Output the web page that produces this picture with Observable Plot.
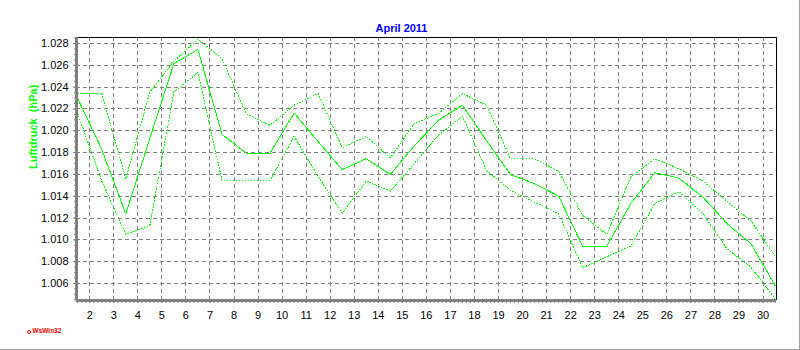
<!DOCTYPE html>
<html>
<head>
<meta charset="utf-8">
<script src="https://cdn.jsdelivr.net/npm/d3@7"></script>
<script src="https://cdn.jsdelivr.net/npm/@observablehq/plot@0.6"></script>
<style>
  html, body { margin: 0; padding: 0; background: #fff; }
  #wrap { position: relative; width: 800px; height: 350px; overflow: hidden; font-family: "Liberation Sans", Arial, sans-serif; }
  #edge { position: absolute; left: 0; top: 0; width: 800px; height: 350px; box-sizing: border-box; border-right: 1px solid #a0a0a0; border-bottom: 1px solid #a0a0a0; pointer-events: none; }
  #wm { position: absolute; left: 27px; top: 327px; font-size: 6.5px; font-weight: bold; color: #ff0000; line-height: 8px; white-space: nowrap; }
  #wm .ring { display: inline-block; width: 2px; height: 2px; border: 1.2px solid #ff0000; border-radius: 50%; margin-right: 1.5px; vertical-align: -0.5px; }
</style>
</head>
<body>
<div id="wrap"><div id="chart"></div><div id="wm"><span class="ring"></span>WsWin32</div><div id="edge"></div></div>
<script>
// Positions of the daily values (midday of each April day)
const xPos = [1.5, 2.5, 3.5, 4.5, 5.5, 6.5, 7.5, 8.5, 9.5, 10.5, 11.5, 12.5, 13.5, 14.5, 15.5,
              16.5, 17.5, 18.5, 19.5, 20.5, 21.5, 22.5, 23.5, 24.5, 25.5, 26.5, 27.5, 28.5, 29.5, 30.5];
// Mean (solid)
const meanP = [1.02295, 1.0183, 1.0124, 1.0193, 1.02616, 1.02745, 1.01968, 1.01796, 1.01796, 1.02163,
               1.0190, 1.01644, 1.01744, 1.0160, 1.01863, 1.02096, 1.02234, 1.0191, 1.01598, 1.01515,
               1.0140, 1.00942, 1.00942, 1.01332, 1.01616, 1.01566, 1.01392, 1.0115, 1.00964, 1.00582];
// Maximum (dotted, upper)
const maxP = [1.02341, 1.02341, 1.01561, 1.02356, 1.02638, 1.02839, 1.02662, 1.02158, 1.0205, 1.02234,
              1.02341, 1.01845, 1.01949, 1.0175, 1.02066, 1.02158, 1.02341, 1.02234, 1.01744, 1.01744,
              1.01628, 1.01224, 1.0105, 1.01576, 1.01744, 1.01653, 1.01539, 1.01355, 1.01172, 1.00851];
// Minimum (dotted, lower)
const minP = [1.02158, 1.0154, 1.0105, 1.01132, 1.02356, 1.02534, 1.01545, 1.01545, 1.01545, 1.01949,
              1.0158, 1.01245, 1.01539, 1.01447, 1.0170, 1.01958, 1.02133, 1.01637, 1.01454, 1.01346,
              1.0124, 1.00744, 1.00845, 1.00942, 1.01332, 1.01444, 1.0124, 1.00918, 1.0075, 1.0046];

const xTicks = [2, 3, 4, 5, 6, 7, 8, 9, 10, 11, 12, 13, 14, 15, 16, 17, 18, 19, 20, 21, 22, 23, 24, 25, 26, 27, 28, 29, 30];
const yTicks = [1.006, 1.008, 1.010, 1.012, 1.014, 1.016, 1.018, 1.020, 1.022, 1.024, 1.026, 1.028];
const xDomain = [1.45, 30.56];
const yDomain = [1.00444, 1.02855];
const titleText = "April 2011";
const yLabel = "Luftdruck\u00a0 (hPa)";

const rows = xPos.map((x, i) => ({x, mean: meanP[i], max: maxP[i], min: minP[i]}));
const xMinor = d3.range(Math.ceil(xDomain[0] * 6) / 6, xDomain[1], 1 / 6);
const yMinor = d3.range(1.0045, yDomain[1], 0.0005);

const green = "#00ff00";
const grid = {stroke: "#808080", strokeOpacity: 1, strokeDasharray: "4,3", strokeWidth: 1, shapeRendering: "crispEdges"};
const dotted = {stroke: green, strokeWidth: 1, strokeDasharray: "1,2", shapeRendering: "crispEdges"};

const chart = Plot.plot({
  width: 800,
  height: 350,
  marginLeft: 76,
  marginRight: 24,
  marginTop: 37,
  marginBottom: 50,
  style: {fontFamily: "'Liberation Sans', Arial, sans-serif", fontSize: "11px", background: "#fff", color: "#000"},
  x: {domain: xDomain, axis: null},
  y: {domain: yDomain, axis: null},
  marks: [
    Plot.gridY(yTicks, grid),
    Plot.gridX(xTicks, grid),
    Plot.line(rows, {x: "x", y: "max", ...dotted}),
    Plot.line(rows, {x: "x", y: "min", ...dotted}),
    Plot.line(rows, {x: "x", y: "mean", stroke: green, strokeWidth: 1, shapeRendering: "crispEdges"}),
    Plot.ruleY([yDomain[1]], {stroke: "#000", strokeWidth: 1, shapeRendering: "crispEdges"}),
    Plot.ruleX([xDomain[1]], {stroke: "#000", strokeWidth: 1, shapeRendering: "crispEdges"}),
    Plot.axisX(xMinor, {tickSize: 3, tickFormat: () => "", stroke: "#808080", label: null}),
    Plot.axisX(xTicks, {tickSize: 3, tickPadding: 8, stroke: "#808080", label: null, fontSize: 11}),
    Plot.axisY(yMinor, {tickSize: 2, tickFormat: () => "", stroke: "#808080", label: null}),
    Plot.axisY(yTicks, {tickSize: 3, tickPadding: 5, tickFormat: d3.format(".3f"), stroke: "#808080", label: null, fontSize: 11}),
    Plot.ruleX([xDomain[0]], {stroke: "#808080", strokeWidth: 3}),
    Plot.ruleY([yDomain[0]], {stroke: "#808080", strokeWidth: 3}),
    Plot.text([titleText], {frameAnchor: "top", dx: -25, dy: -13.5, fill: "#0000ff", fontWeight: "bold", fontSize: 11}),
    Plot.text([yLabel], {frameAnchor: "left", dx: -43.5, rotate: -90, fill: green, fontWeight: "bold", fontSize: 11})
  ]
});
document.getElementById("chart").appendChild(chart);
</script>
</body>
</html>
